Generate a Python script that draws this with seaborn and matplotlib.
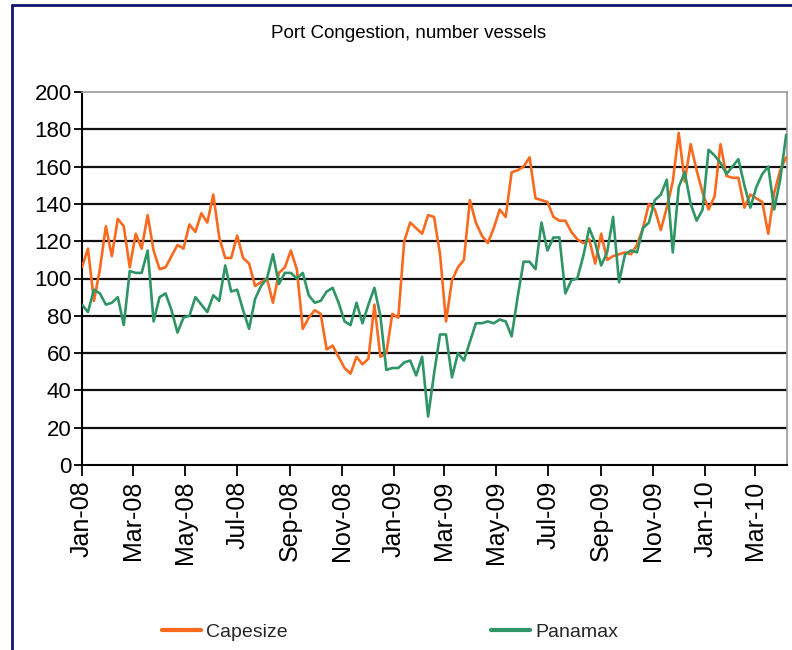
import matplotlib
matplotlib.use("Agg")
import matplotlib.pyplot as plt
import matplotlib.dates as mdates
from matplotlib import font_manager
from matplotlib.lines import Line2D
import seaborn as sns
import pandas as pd
import numpy as np

# Weekly port congestion, number of vessels
start_date = "2008-01-01"
series_names = ["Capesize", "Panamax"]

capesize = [106, 116, 88, 105, 128, 112, 132, 128, 106, 124, 116, 134, 115, 105, 106, 112, 118, 116, 129, 125, 135,
            130, 145, 122, 111, 111, 123, 111, 108, 96, 98, 100, 87, 103, 106, 115, 105, 73, 79, 83, 81,
            62, 64, 58, 52, 49, 58, 54, 57, 86, 58, 60, 81, 79, 120, 130, 127, 124, 134, 133, 113,
            77, 99, 106, 110, 142, 130, 123, 119, 127, 137, 133, 157, 158, 160, 165, 143, 142, 141, 133,
            131, 131, 125, 121, 119, 121, 108, 124, 110, 112, 113, 114, 113, 118, 127, 140, 137, 126, 138, 152,
            178, 152, 172, 158, 146, 137, 144, 172, 155, 154, 154, 138, 145, 143, 141, 124, 146, 158, 165]

panamax = [86, 82, 94, 92, 86, 87, 90, 75, 104, 103, 103, 115, 77, 90, 92, 83, 71, 79, 80, 90, 86,
           82, 91, 88, 107, 93, 94, 83, 73, 89, 96, 100, 113, 97, 103, 103, 100, 103, 91, 87, 88,
           93, 95, 87, 77, 75, 87, 76, 86, 95, 80, 51, 52, 52, 55, 56, 48, 58, 26, 49, 70,
           70, 47, 60, 56, 66, 76, 76, 77, 76, 78, 77, 69, 90, 109, 109, 105, 130, 115, 122,
           122, 92, 99, 100, 112, 127, 119, 107, 114, 133, 98, 113, 115, 114, 127, 130, 142, 145, 153, 114,
           149, 157, 140, 131, 137, 169, 166, 162, 156, 160, 164, 150, 138, 149, 156, 160, 137, 153, 177]

y_ticks = list(range(0, 201, 20))

n = len(capesize)
dates = pd.date_range(start_date, periods=n, freq="7D")
df = pd.DataFrame({
    "date": np.concatenate([dates.values, dates.values]),
    "vessels": capesize + panamax,
    "series": [series_names[0]] * n + [series_names[1]] * len(panamax),
})

colors = {"Capesize": "#fa6a1e", "Panamax": "#2f9566"}

sns.set_theme(style="white")
installed = {f.name for f in font_manager.fontManager.ttflist}
narrow = "Liberation Sans Narrow" if "Liberation Sans Narrow" in installed else "Liberation Sans"
plt.rcParams["font.family"] = ["Liberation Sans", "DejaVu Sans"]

fig = plt.figure(figsize=(7.92, 6.5), dpi=100)
ax = fig.add_axes([82 / 792, 1 - 465 / 650, (787 - 82) / 792, (465 - 92) / 650])

# horizontal gridlines (black), drawn under the series
for yv in y_ticks[1:-1]:
    ax.axhline(yv, color="#111111", lw=1.6, zorder=1)

sns.lineplot(data=df, x="date", y="vessels", hue="series", palette=colors,
             linewidth=1.9, estimator=None, legend=False, ax=ax, zorder=3)

ax.set_ylim(0, 200)
ax.set_yticks(y_ticks)
ax.set_xlim(dates[0], dates[-1] + pd.Timedelta(days=1))
ax.xaxis.set_major_locator(mdates.MonthLocator(bymonth=[1, 3, 5, 7, 9, 11]))
ax.xaxis.set_major_formatter(mdates.DateFormatter("%b-%y"))
ax.set_xlabel("")
ax.set_ylabel("")

for side in ["left", "bottom"]:
    ax.spines[side].set_color("black")
    ax.spines[side].set_linewidth(1.5)
for side in ["top", "right"]:
    ax.spines[side].set_color("#9a9a9a")
    ax.spines[side].set_linewidth(1.2)

ax.tick_params(axis="y", left=True, direction="out", length=6, width=1.3, color="black",
               labelsize=16, pad=1.5, labelcolor="black")
ax.tick_params(axis="x", bottom=True, direction="out", length=8, width=1.3, color="black",
               labelsize=18, pad=3, labelrotation=90, labelcolor="black")
for lab in ax.get_yticklabels():
    lab.set_family([narrow, "DejaVu Sans"])

fig.text(409 / 792, 1 - 33 / 650, "Port Congestion, number vessels", ha="center", va="center",
         fontsize=13.5, family=[narrow, "DejaVu Sans"], color="black")

handles = [Line2D([], [], color=colors[s], lw=3) for s in series_names]
fig.legend(handles, series_names, loc="center", bbox_to_anchor=(390 / 792, 1 - 632 / 650),
           ncol=2, frameon=False, handlelength=2.0, handletextpad=0.25,
           columnspacing=10.5, prop={"family": [narrow, "DejaVu Sans"], "size": 14})

# navy frame around the picture
frame_color = "#14146e"
fig.add_artist(Line2D([12 / 792, 1], [1 - 5 / 650, 1 - 5 / 650], transform=fig.transFigure,
                      color=frame_color, lw=2))
fig.add_artist(Line2D([12 / 792, 12 / 792], [0, 1 - 5 / 650], transform=fig.transFigure,
                      color=frame_color, lw=2))

fig.savefig("out.png", dpi=100)
